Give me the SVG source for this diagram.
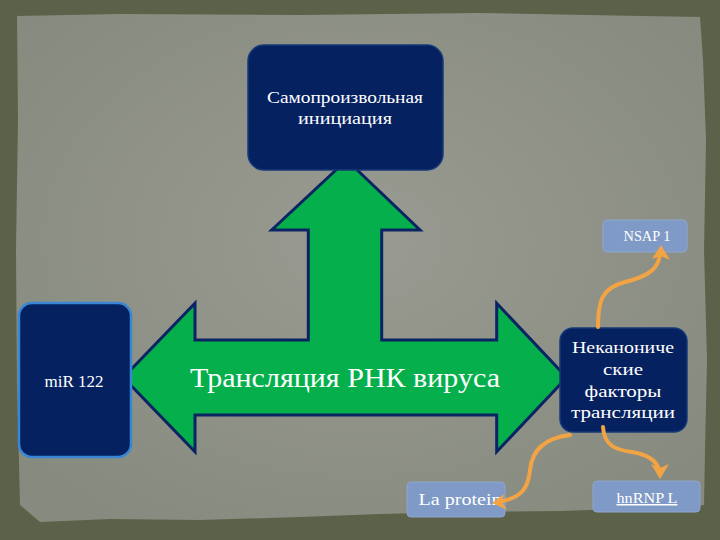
<svg xmlns="http://www.w3.org/2000/svg" width="720" height="540" viewBox="0 0 720 540">
  <defs>
    <style>
      .navy { fill: #06215f; stroke: #163a7a; stroke-width: 1.5; }
      .light { fill: #7f9ac6; stroke: #8ea6cc; stroke-width: 1; }
      .wt { font-family: "Liberation Serif", "DejaVu Serif", serif; fill: #ffffff; text-anchor: middle; }
      .conn { fill: none; stroke: #f2a444; stroke-width: 4; stroke-linecap: round; }
      .head { fill: #f2a444; }
    </style>
    <radialGradient id="panelGrad" cx="50%" cy="45%" r="65%">
      <stop offset="0" stop-color="#999b92"/>
      <stop offset="1" stop-color="#878a7e"/>
    </radialGradient>
  </defs>

  <!-- background -->
  <rect x="0" y="0" width="720" height="540" fill="#5c6249"/>
  <path d="M17,16 L120,14 L300,15 L480,13 L640,16 L700,17 L703,60 L706,140 L704,250 L707,360 L705,450 L704,505 L650,508 L560,511 L470,512 L380,514 L300,517 L200,520 L110,519 L40,522 L20,505 L17,380 L16,250 L18,120 Z" fill="url(#panelGrad)"/>

  <!-- central arrow -->
  <g id="translation">
    <path d="M346.7,160 L420,230 L381.7,230 L381.7,340 L496.7,340 L496.7,303.3 L566.7,377.5 L496.7,451.7 L496.7,415 L195,415 L195,451.7 L123.3,377.5 L195,303.3 L195,340 L308.3,340 L308.3,230 L271.7,230 Z" fill="#05b04c" stroke="#0a2463" stroke-width="3" stroke-linejoin="miter"/>
    <text class="wt" x="345" y="387" font-size="28" fill="#f2fff2" textLength="310" lengthAdjust="spacingAndGlyphs">Трансляция РНК вируса</text>
  </g>

  <g id="spontaneous">
    <rect class="navy" x="248" y="45" width="195" height="125" rx="16"/>
    <text class="wt" x="345" y="103" font-size="16.5" textLength="156" lengthAdjust="spacingAndGlyphs">Самопроизвольная</text>
    <text class="wt" x="345" y="124" font-size="16.5" textLength="94" lengthAdjust="spacingAndGlyphs">инициация</text>
  </g>

  <g id="mir122">
    <rect x="19" y="303" width="112" height="154" rx="13" fill="#06215f" stroke="#3a86d6" stroke-width="2.5"/>
    <text class="wt" x="74" y="387" font-size="16.5" textLength="59" lengthAdjust="spacingAndGlyphs">miR 122</text>
  </g>

  <g id="noncanonical">
    <rect class="navy" x="560" y="328" width="127" height="104" rx="13"/>
    <text class="wt" x="623" y="353" font-size="17" textLength="102" lengthAdjust="spacingAndGlyphs">Неканониче</text>
    <text class="wt" x="623" y="375" font-size="17" textLength="40" lengthAdjust="spacingAndGlyphs">ские</text>
    <text class="wt" x="623" y="397" font-size="17" textLength="77" lengthAdjust="spacingAndGlyphs">факторы</text>
    <text class="wt" x="623" y="418" font-size="17" textLength="104" lengthAdjust="spacingAndGlyphs">трансляции</text>
  </g>

  <g id="nsap1">
    <rect class="light" x="603" y="220" width="84" height="32" rx="4"/>
    <text class="wt" x="647" y="241" font-size="14" textLength="47" lengthAdjust="spacingAndGlyphs">NSAP 1</text>
  </g>

  <g id="laprotein">
    <rect class="light" x="407" y="482" width="98" height="35" rx="4"/>
    <text class="wt" x="460" y="505" font-size="17" textLength="83" lengthAdjust="spacingAndGlyphs">La protein</text>
  </g>

  <g id="hnrnpl">
    <rect class="light" x="593" y="481" width="107" height="31" rx="4"/>
    <text class="wt" x="647" y="503" font-size="15" text-decoration="underline" textLength="61" lengthAdjust="spacingAndGlyphs">hnRNP L</text>
  </g>

  <g id="connectors">
    <path class="conn" d="M598,327 C598,300 602,288 625,282 C650,276 658,268 660,255"/>
    <path class="head" d="M661,245 L670,260 L661,256 L652,259 Z"/>
    <path class="conn" d="M570,435 C545,438 532,450 530,470 C528,490 520,497 503,501"/>
    <path class="head" d="M492,503 L504,494 L502,502 L507,510 Z"/>
    <path class="conn" d="M603,427 C604,445 615,450 632,452 C650,455 657,462 659,470"/>
    <path class="head" d="M660,479 L651,464 L660,468 L669,464 Z"/>
  </g>
</svg>
